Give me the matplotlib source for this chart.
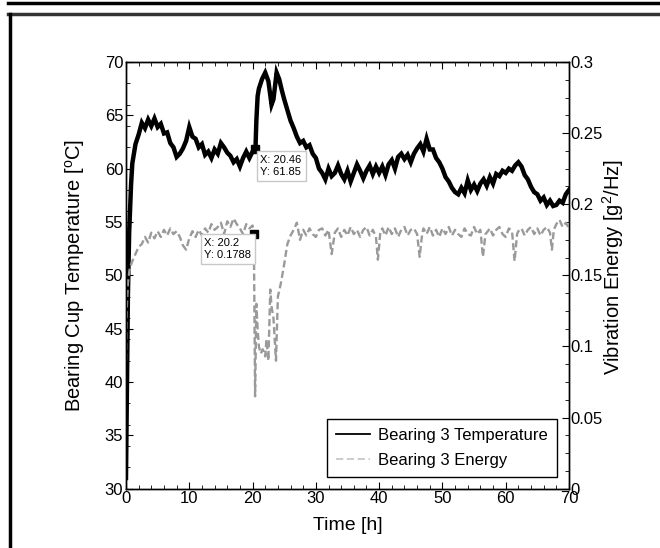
import matplotlib
matplotlib.use("Agg")
import matplotlib.pyplot as plt
from matplotlib.lines import Line2D
from matplotlib.ticker import MultipleLocator

plt.rcParams["font.family"] = ["Liberation Sans", "DejaVu Sans"]
plt.rcParams["mathtext.fontset"] = "custom"
plt.rcParams["mathtext.rm"] = "Liberation Sans"

# bearing 3 cup temperature (h, degC)
temp_time = [0.0, 0.15, 0.3, 0.5, 0.8, 1.0, 1.5, 2.0, 2.5, 3.0, 3.5, 4.0, 4.5, 5.0,
             5.5, 6.0, 6.5, 7.0, 7.5, 8.0, 8.5, 9.0, 9.5, 10.0, 10.5, 11.0, 11.5,
             12.0, 12.5, 13.0, 13.5, 14.0, 14.5, 15.0, 15.5, 16.0, 16.5, 17.0,
             17.5, 18.0, 18.5, 19.0, 19.5, 20.0, 20.46, 20.6, 20.8, 21.0, 21.5,
             22.0, 22.5, 23.0, 23.3, 23.8, 24.2, 24.6, 25.0, 25.5, 26.0, 26.5,
             27.0, 27.5, 28.0, 28.5, 29.0, 29.5, 30.0, 30.5, 31.0, 31.5, 32.0,
             32.5, 33.0, 33.5, 34.0, 34.5, 35.0, 35.5, 36.0, 36.5, 37.0, 37.5,
             38.0, 38.5, 39.0, 39.5, 40.0, 40.5, 41.0, 41.5, 42.0, 42.5, 43.0,
             43.5, 44.0, 44.5, 45.0, 45.5, 46.0, 46.5, 47.0, 47.5, 48.0, 48.5,
             49.0, 49.5, 50.0, 50.5, 51.0, 51.5, 52.0, 52.5, 53.0, 53.5, 54.0,
             54.5, 55.0, 55.5, 56.0, 56.5, 57.0, 57.5, 58.0, 58.5, 59.0, 59.5,
             60.0, 60.5, 61.0, 61.5, 62.0, 62.5, 63.0, 63.5, 64.0, 64.5, 65.0,
             65.5, 66.0, 66.5, 67.0, 67.5, 68.0, 68.5, 69.0, 69.5, 70.0]
temp_vals = [31.0, 40.0, 48.0, 54.0, 58.5, 60.5, 62.3, 63.2, 64.3, 63.8, 64.6, 64.0,
             64.7, 63.9, 64.2, 63.3, 63.4, 62.4, 62.0, 61.1, 61.4, 61.9, 62.6, 63.9,
             63.0, 62.8, 62.0, 62.3, 61.3, 61.6, 61.0, 61.8, 61.4, 62.4, 62.0, 61.5,
             61.2, 60.6, 60.9, 60.2, 61.0, 61.6, 61.0, 61.6, 61.85, 64.5, 66.8,
             67.5, 68.4, 69.0, 68.2, 66.0, 66.5, 69.0, 68.4, 67.4, 66.5, 65.5, 64.5,
             63.8, 63.0, 62.4, 62.6, 62.0, 62.2, 61.4, 61.0, 60.0, 59.6, 59.0, 60.0,
             59.3, 59.6, 60.3, 59.5, 59.0, 59.8, 58.8, 59.6, 60.4, 59.8, 59.1, 59.8,
             60.3, 59.5, 60.2, 59.6, 60.2, 59.4, 60.4, 60.8, 60.0, 61.1, 61.4, 60.9,
             61.3, 60.6, 61.4, 61.9, 62.3, 61.6, 62.8, 61.8, 61.8, 61.0, 60.6, 60.0,
             59.2, 58.8, 58.2, 57.8, 57.6, 58.2, 57.7, 58.9, 58.0, 58.5, 57.9, 58.6,
             59.0, 58.4, 59.2, 58.6, 59.5, 59.3, 59.8, 59.6, 60.0, 59.8, 60.3, 60.6,
             60.2, 59.4, 59.0, 58.3, 57.8, 57.6, 57.0, 57.3, 56.6, 57.0, 56.5, 56.6,
             57.0, 56.8, 57.6, 58.0]

# bearing 3 vibration energy (h, g^2/Hz), one row of the picture per line
energy_time = [0.0, 0.1, 0.3, 0.6, 1.0, 1.5, 2.0, 2.5, 3.0, 3.5, 4.0, 4.5, 5.0, 5.5,
               6.0, 6.5, 7.0, 7.5, 8.0, 8.5, 9.0, 9.5, 10.0, 10.5, 11.0, 11.5, 12.0,
               12.5, 13.0, 13.5, 14.0, 14.5, 15.0, 15.5, 16.0, 16.5, 17.0, 17.5,
               18.0, 18.5, 19.0, 19.5, 20.0, 20.2, 20.4, 20.6, 20.8, 21.0, 21.3,
               21.6, 22.0, 22.2, 22.5, 22.8, 23.0, 23.3, 23.7, 24.0, 24.5, 25.0,
               25.5, 26.0, 26.5, 27.0, 27.5, 28.0, 28.5, 29.0, 29.5, 30.0, 30.5,
               31.0, 31.5, 32.0, 32.5, 33.0, 33.5, 34.0, 34.5, 35.0, 35.5, 36.0,
               36.5, 37.0, 37.5, 38.0, 38.5, 39.0, 39.5, 39.8, 40.2, 40.5, 41.0,
               41.5, 42.0, 42.5, 43.0, 43.5, 44.0, 44.5, 45.0, 45.5, 46.0, 46.4,
               46.8, 47.0, 47.5, 48.0, 48.5, 49.0, 49.5, 50.0, 50.5, 51.0, 51.5,
               52.0, 52.5, 53.0, 53.5, 54.0, 54.5, 55.0, 55.5, 56.0, 56.4, 56.8,
               57.0, 57.5, 58.0, 58.5, 59.0, 59.5, 60.0, 60.5, 61.0, 61.4, 61.8,
               62.0, 62.5, 63.0, 63.5, 64.0, 64.5, 65.0, 65.5, 66.0, 66.5, 67.0,
               67.3, 67.6, 68.0, 68.5, 69.0, 69.5, 70.0]
energy_vals = [0.090, 0.125, 0.145, 0.155, 0.160, 0.165, 0.170, 0.172, 0.177, 0.173, 0.180, 0.176, 0.181, 0.177,
               0.182, 0.178, 0.183, 0.179, 0.181, 0.177, 0.171, 0.168, 0.176, 0.181, 0.177, 0.182, 0.178,
               0.183, 0.180, 0.186, 0.182, 0.184, 0.187, 0.179, 0.188, 0.184, 0.190, 0.186,
               0.183, 0.179, 0.186, 0.183, 0.185, 0.1788, 0.065, 0.130, 0.112, 0.100, 0.095,
               0.098, 0.093, 0.105, 0.090, 0.140, 0.128, 0.120, 0.090, 0.135, 0.145, 0.158,
               0.172, 0.178, 0.182, 0.187, 0.175, 0.182, 0.178, 0.183, 0.179, 0.177, 0.182,
               0.183, 0.178, 0.182, 0.165, 0.180, 0.183, 0.177, 0.182, 0.178, 0.184, 0.179,
               0.182, 0.177, 0.182, 0.184, 0.178, 0.182, 0.177, 0.161, 0.181, 0.183, 0.178,
               0.184, 0.179, 0.183, 0.177, 0.182, 0.184, 0.178, 0.182, 0.183, 0.179, 0.163,
               0.179, 0.183, 0.179, 0.184, 0.178, 0.182, 0.177, 0.183, 0.179, 0.184, 0.178,
               0.182, 0.179, 0.177, 0.183, 0.179, 0.178, 0.184, 0.179, 0.182, 0.163, 0.179,
               0.180, 0.183, 0.178, 0.182, 0.184, 0.179, 0.177, 0.183, 0.181, 0.160, 0.179,
               0.181, 0.183, 0.178, 0.182, 0.184, 0.179, 0.183, 0.178, 0.182, 0.184, 0.180,
               0.168, 0.182, 0.186, 0.189, 0.184, 0.187, 0.183]

# data tips shown on the original figure
tip_temp = (20.46, 61.85)
tip_energy = (20.2, 0.1788)


def main():
    fig = plt.figure(figsize=(6.6, 5.48), dpi=100)
    ax = fig.add_axes([0.1909, 0.1082, 0.6712, 0.7787])
    ax2 = ax.twinx()

    ax.plot(temp_time, temp_vals, color="black", lw=3.2, solid_joinstyle="miter")
    ax2.plot(energy_time, energy_vals, color="#9a9a9a", lw=1.7, ls=(0, (3, 1.5)))

    ax.plot(*tip_temp, marker="s", ms=6, color="black", zorder=5)
    ax2.plot(*tip_energy, marker="s", ms=6, color="black", zorder=5)

    box = dict(boxstyle="square,pad=0.35", fc="white", ec="#c8c8c8", lw=1)
    ax.text(21.25, 61.3, "X: %.2f\nY: %.2f" % tip_temp, fontsize=8,
            ha="left", va="top", bbox=box, linespacing=1.3, zorder=6)
    ax2.text(12.4, 0.1765, "X: %.1f\nY: %.4f" % tip_energy, fontsize=8,
             ha="left", va="top", bbox=box, linespacing=1.3, zorder=6)

    ax.set_xlim(0, 70)
    ax.set_ylim(30, 70)
    ax2.set_ylim(0, 0.3)
    ax.xaxis.set_major_locator(MultipleLocator(10))
    ax.xaxis.set_minor_locator(MultipleLocator(2))
    ax.yaxis.set_major_locator(MultipleLocator(5))
    ax.yaxis.set_minor_locator(MultipleLocator(2))
    ax2.yaxis.set_minor_locator(MultipleLocator(0.0125))
    ax2.set_yticks([0, 0.05, 0.1, 0.15, 0.2, 0.25, 0.3])
    ax2.set_yticklabels(["0", "0.05", "0.1", "0.15", "0.2", "0.25", "0.3"])

    ax.tick_params(which="both", direction="in", top=True, labelsize=12, pad=2)
    ax.tick_params(which="major", length=5)
    ax.tick_params(which="minor", length=3)
    ax2.tick_params(which="both", direction="in", labelsize=12, pad=1)
    ax2.tick_params(which="major", length=5)
    ax2.tick_params(which="minor", length=3)
    for a in (ax, ax2):
        for s in a.spines.values():
            s.set_linewidth(1.0)

    ax.set_xlabel("Time [h]", fontsize=14)
    ax.xaxis.set_label_coords(0.5, -0.066)
    ax.set_ylabel(r"Bearing Cup Temperature [$^{\rm o}$C]", fontsize=14.5)
    ax.yaxis.set_label_coords(-0.088, 0.5)
    ax2.set_ylabel(r"Vibration Energy [g$^{2}$/Hz]", fontsize=14.5, rotation=90)
    ax2.yaxis.set_label_coords(1.07, 0.52)

    handles = [Line2D([], [], color="black", lw=1.3),
               Line2D([], [], color="#c8c8c8", lw=1.3, ls=(0, (4, 2)))]
    leg = ax2.legend(handles, ["Bearing 3 Temperature", "Bearing 3 Energy"],
                     loc="lower right", bbox_to_anchor=(0.973, 0.027),
                     borderaxespad=0, fontsize=12, fancybox=False,
                     edgecolor="black", framealpha=1, handlelength=2.0,
                     handletextpad=0.5, borderpad=0.55, labelspacing=0.6)
    leg.get_frame().set_linewidth(1.0)

    # page frame around the figure
    fig.add_artist(Line2D([8 / 660, 1], [1 - 3 / 548, 1 - 3 / 548],
                          transform=fig.transFigure, color="black", lw=2.5))
    fig.add_artist(Line2D([8 / 660, 1], [1 - 14 / 548, 1 - 14 / 548],
                          transform=fig.transFigure, color="#333333", lw=2.5))
    fig.add_artist(Line2D([10 / 660, 10 / 660], [0, 1 - 14 / 548],
                          transform=fig.transFigure, color="black", lw=2.5))

    fig.savefig("out.png", dpi=100)


if __name__ == "__main__":
    main()
